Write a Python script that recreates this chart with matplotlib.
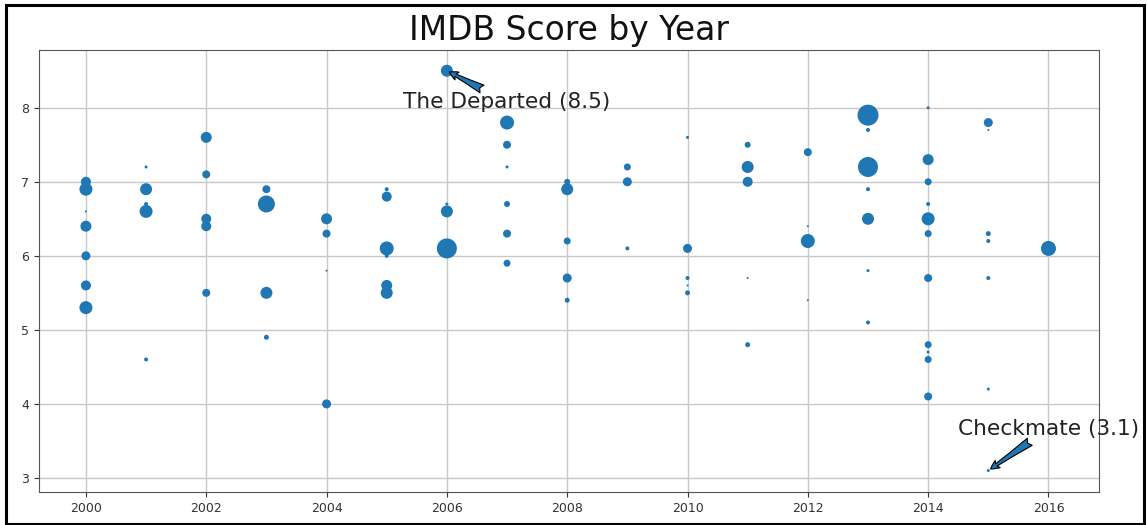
import matplotlib
matplotlib.use("Agg")
import matplotlib.pyplot as plt
from matplotlib.patches import Rectangle

DPI = 100
W, H = 1147, 525

# ---- data: (year, score, relative bubble diameter) ----
years = [2000, 2000, 2000, 2000, 2000, 2000, 2000,
         2001, 2001, 2001, 2001, 2001,
         2002, 2002, 2002, 2002, 2002,
         2003, 2003, 2003, 2003,
         2004, 2004, 2004, 2004,
         2005, 2005, 2005, 2005, 2005, 2005,
         2006, 2006, 2006, 2006,
         2007, 2007, 2007, 2007, 2007, 2007,
         2008, 2008, 2008, 2008, 2008,
         2009, 2009, 2009,
         2010, 2010, 2010, 2010, 2010,
         2011, 2011, 2011, 2011, 2011,
         2012, 2012, 2012, 2012,
         2013, 2013, 2013, 2013, 2013, 2013, 2013,
         2014, 2014, 2014, 2014, 2014, 2014, 2014, 2014, 2014, 2014, 2014,
         2015, 2015, 2015, 2015, 2015, 2015, 2015,
         2016]
scores = [7.0, 6.9, 6.6, 6.4, 6.0, 5.6, 5.3,
          7.2, 6.9, 6.7, 6.6, 4.6,
          7.6, 7.1, 6.5, 6.4, 5.5,
          6.9, 6.7, 5.5, 4.9,
          6.5, 6.3, 5.8, 4.0,
          6.9, 6.8, 6.1, 6.0, 5.6, 5.5,
          8.5, 6.7, 6.6, 6.1,
          7.8, 7.5, 7.2, 6.7, 6.3, 5.9,
          7.0, 6.9, 6.2, 5.7, 5.4,
          7.2, 7.0, 6.1,
          7.6, 6.1, 5.7, 5.6, 5.5,
          7.5, 7.2, 7.0, 5.7, 4.8,
          7.4, 6.4, 6.2, 5.4,
          7.9, 7.7, 7.2, 6.9, 6.5, 5.8, 5.1,
          8.0, 7.3, 7.0, 6.7, 6.5, 6.3, 5.7, 4.8, 4.7, 4.6, 4.1,
          7.8, 7.7, 6.3, 6.2, 5.7, 4.2, 3.1,
          6.1]
popularity = [10, 13, 2, 11, 9, 10, 13,
              3, 12, 4, 13, 4,
              11, 8, 10, 10, 8,
              8, 17, 12, 5,
              11, 8, 2, 9,
              4, 10, 14, 4, 11, 12,
              12, 3, 12, 20,
              14, 8, 3, 6, 8, 7,
              6, 12, 7, 9, 5,
              7, 9, 4,
              3, 9, 4, 2, 5,
              6, 12, 10, 2, 5,
              8, 2, 14, 2,
              21, 4, 20, 4, 12, 3, 4,
              3, 11, 7, 4, 13, 7, 8, 7, 3, 7, 8,
              9, 2, 5, 4, 4, 3, 3,
              15]

title = "IMDB Score by Year"
ann_labels = ["The Departed (8.5)", "Checkmate (3.1)"]
ann_points = [(2006, 8.5), (2015, 3.1)]
ann_text_pos = [(2005.27, 8.0), (2014.49, 3.58)]
x_ticks = list(range(2000, 2017, 2))
y_ticks = [3, 4, 5, 6, 7, 8]

plt.rcParams['font.family'] = ['DejaVu Sans']
fig = plt.figure(figsize=(W / DPI, H / DPI), dpi=DPI)
ax = fig.add_axes([39 / W, 1 - 492 / H, (1099 - 39) / W, (492 - 50) / H])

sizes = [(d * 72 / DPI) ** 2 for d in popularity]
ax.scatter(years, scores, s=sizes, color='#1f77b4', linewidths=0, zorder=3)

for lab, pt, tp in zip(ann_labels, ann_points, ann_text_pos):
    ax.annotate(lab, xy=pt, xytext=tp, fontsize=15.6, color='#222222',
                arrowprops=dict(arrowstyle='fancy', facecolor='#1f77b4',
                                edgecolor='black', linewidth=0.8,
                                shrinkA=0, shrinkB=2), zorder=4)

ax.set_xlim(1999.22, 2016.84)
ax.set_ylim(2.81, 8.78)
ax.set_xticks(x_ticks)
ax.set_yticks(y_ticks)
ax.tick_params(labelsize=9, colors='#333333', length=3.5)
ax.grid(True, color='#c8c8c8', linewidth=1)
ax.set_axisbelow(True)
for sp in ax.spines.values():
    sp.set_color('#555555')
ax.set_title(title, fontsize=23.7, color='#111111', pad=7)

fig.patches.append(Rectangle((5.5 / W, 1 - 523.5 / H), (1143.5 - 5.5) / W, (523.5 - 4.5) / H,
                             transform=fig.transFigure, fill=False,
                             edgecolor='black', linewidth=2.2))

fig.savefig("out.png", dpi=DPI)
